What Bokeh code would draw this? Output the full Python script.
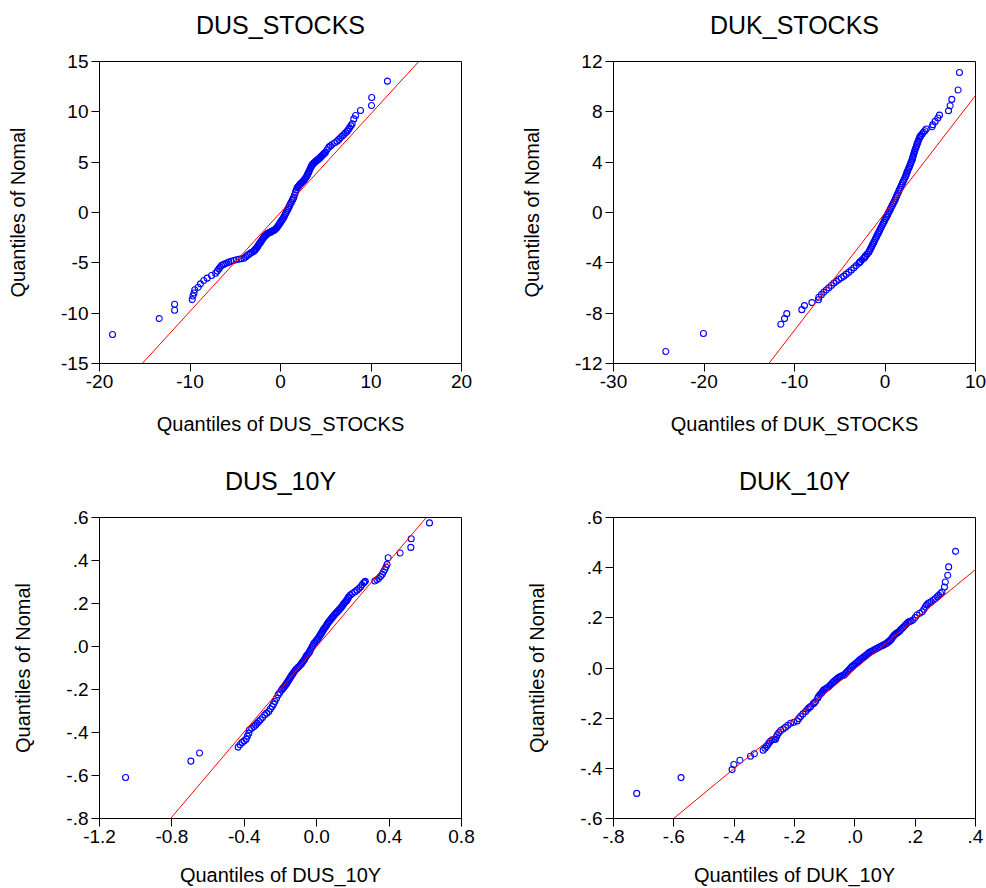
from bokeh.plotting import figure
from bokeh.layouts import gridplot
from bokeh.models import Range1d, FixedTicker, Slope, Title
from bokeh.embed import file_html
from bokeh.resources import INLINE

# ---------------- data ----------------
titles = ["DUS_STOCKS", "DUK_STOCKS", "DUS_10Y", "DUK_10Y"]
y_label = "Quantiles of Nomal"

dus_stocks_x = [-18.56, -13.40, -11.70, -11.70, -9.75, -9.67, -9.56, -9.47, -9.10, -8.84, -8.47, -8.10, -7.62,
                -7.18, -6.81, -6.52, -6.15, -5.71, -5.16, -4.60, -4.05, -3.68, -3.31, -2.95, -2.76, -2.58, -2.39,
                -2.21, -2.03, -1.84, -1.66, -1.47, -1.29, -1.10, -0.92, -0.74, -0.55, -0.37, -0.18, 0.00, 0.18,
                0.37, 0.55, 0.74, 0.92, 1.10, 1.29, 1.47, 1.66, 1.84, 2.03, 2.21, 2.40, 2.58, 2.76, 2.95, 3.06,
                3.20, 3.36, 3.50, 3.68, 3.87, 4.05, 4.24, 4.42, 4.60, 4.79, 4.97, 5.34, 5.71, 6.26, 6.63, 7.00,
                7.37, 7.63, 7.92, 8.10, 8.29, 8.84, 10.06, 10.08, 11.82,
                -6.98, -6.66, -6.33, -5.93, -5.44, -4.88, -4.33, -3.86, -3.50, -3.13, -2.86, -2.67, -2.48, -2.30,
                -2.12, -1.93, -1.75, -1.56, -1.38, -1.20, -1.01, -0.83, -0.64, -0.46, -0.27, -0.09, 0.09, 0.27,
                0.46, 0.64, 0.83, 1.01, 1.19, 1.38, 1.56, 1.75, 1.94, 2.12, 2.30, 2.49, 2.67, 2.86, 3.00, 3.13,
                3.28, 3.43, 3.59, 3.78, 3.96, 4.15, 4.33, 4.51, 4.70, 4.88, 5.15, 5.52, 5.98, 6.45, 6.82, 7.18,
                7.50, 7.78]
dus_stocks_y = [-12.12, -10.54, -9.71, -9.12, -8.65, -8.29, -7.99, -7.68, -7.42, -7.09, -6.75, -6.52, -6.26,
                -6.03, -5.60, -5.27, -5.10, -4.93, -4.77, -4.64, -4.54, -4.27, -4.04, -3.84, -3.64, -3.44, -3.18,
                -2.95, -2.71, -2.45, -2.28, -2.12, -2.02, -1.95, -1.85, -1.79, -1.65, -1.46, -1.22, -0.96, -0.73,
                -0.46, -0.13, 0.20, 0.53, 0.86, 1.19, 1.52, 2.02, 2.45, 2.65, 2.85, 3.01, 3.18, 3.41, 3.68, 3.91,
                4.17, 4.50, 4.73, 4.90, 5.07, 5.20, 5.33, 5.50, 5.66, 5.83, 5.99, 6.49, 6.76, 7.09, 7.42, 7.75,
                8.08, 8.41, 8.81, 9.30, 9.64, 10.13, 10.63, 11.43, 13.05,
                -5.82, -5.43, -5.18, -5.01, -4.85, -4.70, -4.59, -4.42, -4.16, -3.95, -3.74, -3.55, -3.31, -3.06,
                -2.83, -2.58, -2.36, -2.20, -2.07, -1.98, -1.90, -1.82, -1.72, -1.56, -1.34, -1.09, -0.85, -0.60,
                -0.30, 0.03, 0.36, 0.70, 1.02, 1.35, 1.77, 2.24, 2.55, 2.75, 2.93, 3.10, 3.30, 3.55, 3.80, 4.04,
                4.33, 4.62, 4.82, 4.99, 5.14, 5.27, 5.42, 5.58, 5.75, 5.91, 6.24, 6.62, 6.93, 7.26, 7.59, 7.92,
                8.25, 8.61]

duk_stocks_x = [-24.22, -20.06, -11.51, -11.10, -10.85, -9.19, -8.90, -8.08, -7.35, -7.31, -6.76, -6.21, -5.65,
                -5.10, -4.55, -4.00, -3.44, -2.89, -2.71, -2.34, -2.16, -1.79, -1.60, -1.42, -1.23, -1.05, -0.87,
                -0.68, -0.50, -0.31, -0.13, 0.06, 0.24, 0.42, 0.61, 0.79, 0.98, 1.16, 1.34, 1.53, 1.71, 1.90,
                2.08, 2.27, 2.38, 2.52, 2.67, 2.82, 2.97, 3.08, 3.19, 3.30, 3.44, 3.55, 3.70, 3.85, 3.96, 4.25,
                4.55, 5.21, 5.29, 5.54, 5.84, 6.02, 7.02, 7.20, 7.38, 8.08, 8.23,
                -7.03, -6.48, -5.93, -5.38, -4.83, -4.28, -3.72, -3.17, -2.80, -2.53, -2.25, -1.98, -1.70, -1.51,
                -1.33, -1.14, -0.96, -0.78, -0.59, -0.41, -0.22, -0.04, 0.15, 0.33, 0.52, 0.70, 0.89, 1.07, 1.25,
                1.44, 1.62, 1.81, 1.99, 2.18, 2.33, 2.45, 2.60, 2.75, 2.90, 3.03, 3.14, 3.25, 3.37, 3.50, 3.63,
                3.78, 3.90, 4.10, 4.40]
duk_stocks_y = [-11.05, -9.62, -8.88, -8.43, -8.04, -7.72, -7.40, -7.16, -6.93, -6.73, -6.33, -5.99, -5.61,
                -5.32, -5.06, -4.74, -4.40, -4.03, -3.89, -3.63, -3.47, -3.15, -2.89, -2.62, -2.36, -2.09, -1.83,
                -1.56, -1.30, -1.03, -0.77, -0.50, -0.24, 0.03, 0.29, 0.56, 0.82, 1.09, 1.40, 1.70, 1.99, 2.28,
                2.57, 2.86, 3.10, 3.34, 3.60, 3.87, 4.13, 4.40, 4.66, 4.93, 5.19, 5.46, 5.72, 5.99, 6.11, 6.37,
                6.63, 6.82, 6.98, 7.24, 7.51, 7.74, 8.09, 8.48, 8.99, 9.73, 11.13,
                -6.53, -6.16, -5.80, -5.47, -5.19, -4.90, -4.57, -4.22, -3.96, -3.76, -3.55, -3.31, -3.02, -2.76,
                -2.49, -2.22, -1.96, -1.70, -1.43, -1.17, -0.90, -0.64, -0.37, -0.11, 0.16, 0.42, 0.69, 0.95, 1.25,
                1.55, 1.85, 2.14, 2.43, 2.72, 2.98, 3.22, 3.47, 3.74, 4.00, 4.27, 4.53, 4.80, 5.06, 5.33, 5.59,
                5.86, 6.05, 6.24, 6.50]

dus_10y_x = [-1.056, -0.695, -0.647, -0.434, -0.412, -0.390, -0.375, -0.371, -0.347, -0.329, -0.311, -0.287,
             -0.265, -0.246, -0.231, -0.213, -0.194, -0.182, -0.172, -0.163, -0.154, -0.145, -0.136, -0.126,
             -0.114, -0.103, -0.090, -0.080, -0.072, -0.062, -0.053, -0.043, -0.034, -0.025, -0.016, -0.003,
             0.008, 0.019, 0.030, 0.039, 0.049, 0.058, 0.067, 0.078, 0.089, 0.100, 0.113, 0.126, 0.137, 0.148,
             0.159, 0.168, 0.177, 0.196, 0.223, 0.242, 0.260, 0.269, 0.321, 0.343, 0.362, 0.376, 0.389, 0.395,
             0.461, 0.520, 0.522, 0.623,
             -0.423, -0.401, -0.383, -0.359, -0.338, -0.320, -0.299, -0.276, -0.256, -0.239, -0.222, -0.204,
             -0.188, -0.177, -0.168, -0.159, -0.150, -0.141, -0.131, -0.120, -0.108, -0.096, -0.085, -0.076,
             -0.067, -0.058, -0.048, -0.039, -0.030, -0.020, -0.010, 0.003, 0.014, 0.025, 0.035, 0.044, 0.054,
             0.063, 0.073, 0.084, 0.095, 0.107, 0.120, 0.132, 0.143, 0.154, 0.164, 0.173, 0.186, 0.210, 0.233,
             0.251, 0.265, 0.333, 0.353, 0.369, 0.383]
dus_10y_y = [-0.609, -0.533, -0.495, -0.468, -0.446, -0.431, -0.403, -0.387, -0.372, -0.357, -0.341, -0.318,
             -0.302, -0.279, -0.256, -0.225, -0.202, -0.190, -0.179, -0.168, -0.156, -0.143, -0.132, -0.120,
             -0.106, -0.097, -0.086, -0.075, -0.066, -0.052, -0.040, -0.029, -0.017, -0.001, 0.014, 0.027,
             0.038, 0.053, 0.068, 0.081, 0.092, 0.104, 0.115, 0.127, 0.138, 0.150, 0.161, 0.173, 0.184, 0.197,
             0.208, 0.218, 0.231, 0.246, 0.262, 0.277, 0.296, 0.303, 0.305, 0.316, 0.336, 0.357, 0.382, 0.413,
             0.435, 0.461, 0.501, 0.575,
             -0.457, -0.439, -0.417, -0.380, -0.365, -0.349, -0.330, -0.310, -0.291, -0.268, -0.241, -0.214,
             -0.196, -0.185, -0.174, -0.162, -0.150, -0.138, -0.126, -0.113, -0.102, -0.092, -0.081, -0.071,
             -0.059, -0.046, -0.035, -0.023, -0.009, 0.006, 0.020, 0.033, 0.046, 0.061, 0.075, 0.087, 0.098,
             0.110, 0.121, 0.133, 0.144, 0.156, 0.167, 0.179, 0.191, 0.203, 0.213, 0.225, 0.239, 0.254, 0.270,
             0.287, 0.300, 0.310, 0.326, 0.347, 0.370]

duk_10y_x = [-0.723, -0.576, -0.407, -0.401, -0.381, -0.346, -0.333, -0.304, -0.293, -0.285, -0.274, -0.263,
             -0.257, -0.246, -0.230, -0.213, -0.191, -0.180, -0.163, -0.156, -0.147, -0.138, -0.130, -0.123,
             -0.116, -0.109, -0.103, -0.094, -0.086, -0.078, -0.070, -0.061, -0.053, -0.045, -0.036, -0.028,
             -0.020, -0.012, -0.003, 0.006, 0.013, 0.021, 0.030, 0.039, 0.046, 0.054, 0.063, 0.072, 0.083,
             0.092, 0.101, 0.110, 0.118, 0.125, 0.131, 0.138, 0.146, 0.153, 0.162, 0.171, 0.179, 0.187, 0.193,
             0.206, 0.223, 0.234, 0.242, 0.253, 0.267, 0.278, 0.289, 0.297, 0.300, 0.308, 0.311, 0.334,
             -0.298, -0.289, -0.280, -0.268, -0.260, -0.252, -0.238, -0.222, -0.202, -0.186, -0.172, -0.152,
             -0.134, -0.120, -0.112, -0.106, -0.098, -0.090, -0.082, -0.074, -0.066, -0.057, -0.049, -0.040,
             -0.032, -0.024, -0.016, -0.008, 0.002, 0.010, 0.017, 0.026, 0.035, 0.043, 0.050, 0.059, 0.068,
             0.078, 0.088, 0.097, 0.106, 0.114, 0.122, 0.128, 0.135, 0.142, 0.150, 0.158, 0.167, 0.175, 0.183,
             0.200, 0.215, 0.229, 0.238, 0.248, 0.260, 0.273, 0.284]
duk_10y_y = [-0.500, -0.437, -0.405, -0.385, -0.368, -0.352, -0.342, -0.328, -0.313, -0.299, -0.286, -0.284,
             -0.266, -0.249, -0.236, -0.220, -0.211, -0.193, -0.173, -0.164, -0.154, -0.143, -0.134, -0.120,
             -0.107, -0.098, -0.087, -0.081, -0.074, -0.064, -0.054, -0.045, -0.037, -0.032, -0.028, -0.018,
             -0.008, 0.003, 0.012, 0.021, 0.029, 0.037, 0.045, 0.053, 0.061, 0.066, 0.072, 0.078, 0.085,
             0.090, 0.095, 0.103, 0.111, 0.122, 0.131, 0.138, 0.144, 0.154, 0.164, 0.175, 0.184, 0.187, 0.191,
             0.211, 0.224, 0.244, 0.257, 0.264, 0.277, 0.290, 0.303, 0.323, 0.343, 0.370, 0.403, 0.465,
             -0.320, -0.306, -0.292, -0.285, -0.275, -0.258, -0.243, -0.228, -0.216, -0.202, -0.183, -0.159,
             -0.139, -0.114, -0.103, -0.093, -0.084, -0.078, -0.069, -0.059, -0.050, -0.041, -0.035, -0.030,
             -0.023, -0.013, -0.003, 0.008, 0.017, 0.025, 0.033, 0.041, 0.049, 0.057, 0.064, 0.069, 0.075,
             0.082, 0.088, 0.093, 0.099, 0.107, 0.117, 0.127, 0.135, 0.141, 0.149, 0.159, 0.170, 0.180, 0.186,
             0.201, 0.218, 0.234, 0.251, 0.261, 0.271, 0.284, 0.297]

# reference lines (slope, intercept)
line_slope = [0.982, 0.933, 0.991, 0.992]
line_intercept = [0.0, -0.03, 0.0, -0.004]

# axis ranges and ticks
x_ranges = [(-20, 20), (-30, 10), (-1.2, 0.8), (-0.8, 0.4)]
y_ranges = [(-15, 15), (-12, 12), (-0.8, 0.6), (-0.6, 0.6)]
x_ticks = [[-20, -10, 0, 10, 20],
           [-30, -20, -10, 0, 10],
           [-1.2, -0.8, -0.4, 0.0, 0.4, 0.8],
           [-0.8, -0.6, -0.4, -0.2, 0.0, 0.2, 0.4]]
x_tick_labels = [["-20", "-10", "0", "10", "20"],
                 ["-30", "-20", "-10", "0", "10"],
                 ["-1.2", "-0.8", "-0.4", "0.0", "0.4", "0.8"],
                 ["-.8", "-.6", "-.4", "-.2", ".0", ".2", ".4"]]
y_ticks = [[-15, -10, -5, 0, 5, 10, 15],
           [-12, -8, -4, 0, 4, 8, 12],
           [-0.8, -0.6, -0.4, -0.2, 0.0, 0.2, 0.4, 0.6],
           [-0.6, -0.4, -0.2, 0.0, 0.2, 0.4, 0.6]]
y_tick_labels = [["-15", "-10", "-5", "0", "5", "10", "15"],
                 ["-12", "-8", "-4", "0", "4", "8", "12"],
                 ["-.8", "-.6", "-.4", "-.2", ".0", ".2", ".4", ".6"],
                 ["-.6", "-.4", "-.2", ".0", ".2", ".4", ".6"]]

xs = [dus_stocks_x, duk_stocks_x, dus_10y_x, duk_10y_x]
ys = [dus_stocks_y, duk_stocks_y, dus_10y_y, duk_10y_y]

# ---------------- layout ----------------
FONT = "Liberation Sans"
borders = [  # left, right, top, bottom
    (99, 32, 61, 81),
    (120, 11, 61, 81),
    (99, 32, 73, 69),
    (120, 11, 73, 69),
]
spacer_standoff = [20, 20, 20, 20]
xlabel_standoff = [22, 22, 18, 18]

figs = []
for i in range(4):
    L, R, T, B = borders[i]
    p = figure(width=493, height=444, output_backend="svg", toolbar_location=None,
               x_range=Range1d(*x_ranges[i]), y_range=Range1d(*y_ranges[i]),
               min_border_left=L, min_border_right=R, min_border_top=T, min_border_bottom=B,
               background_fill_color="white", border_fill_color="white")
    p.title.text = ""
    # invisible spacer between frame and title, then the title itself
    p.add_layout(Title(text=" ", text_font_size="1px", standoff=spacer_standoff[i],
                       text_color="white"), "above")
    p.add_layout(Title(text=titles[i], align="center", vertical_align="bottom", standoff=0,
                       text_font=FONT, text_font_size="25px", text_font_style="normal",
                       text_color="black"), "above")
    p.grid.visible = False
    p.outline_line_color = "black"
    p.outline_line_width = 1
    p.outline_line_alpha = 1.0

    for ax, ticks, labels, lab in ((p.xaxis[0], x_ticks[i], x_tick_labels[i], "Quantiles of " + titles[i]),
                                   (p.yaxis[0], y_ticks[i], y_tick_labels[i], y_label)):
        ax.ticker = FixedTicker(ticks=ticks)
        ax.major_label_overrides = dict(zip(ticks, labels))
        ax.minor_tick_line_color = None
        ax.major_tick_in = 0
        ax.major_tick_out = 8
        ax.major_tick_line_color = "black"
        ax.axis_line_color = "black"
        ax.major_label_text_font = FONT
        ax.major_label_text_font_size = "19px"
        ax.major_label_text_color = "black"
        ax.major_label_standoff = 3
        ax.axis_label = lab
        ax.axis_label_text_font = FONT
        ax.axis_label_text_font_size = "20px"
        ax.axis_label_text_font_style = "normal"
        ax.axis_label_text_color = "black"
    p.xaxis.axis_label_standoff = xlabel_standoff[i]
    p.yaxis.axis_label_standoff = 29
    p.yaxis.major_label_orientation = "horizontal"

    p.add_layout(Slope(gradient=line_slope[i], y_intercept=line_intercept[i],
                       line_color="red", line_width=1))
    p.scatter(xs[i], ys[i], marker="circle", size=6, fill_color=None,
              line_color="blue", line_width=1.1)
    figs.append(p)

grid = gridplot([[figs[0], figs[1]], [figs[2], figs[3]]], toolbar_location=None)

open("out.html", "w").write(file_html(grid, INLINE))
